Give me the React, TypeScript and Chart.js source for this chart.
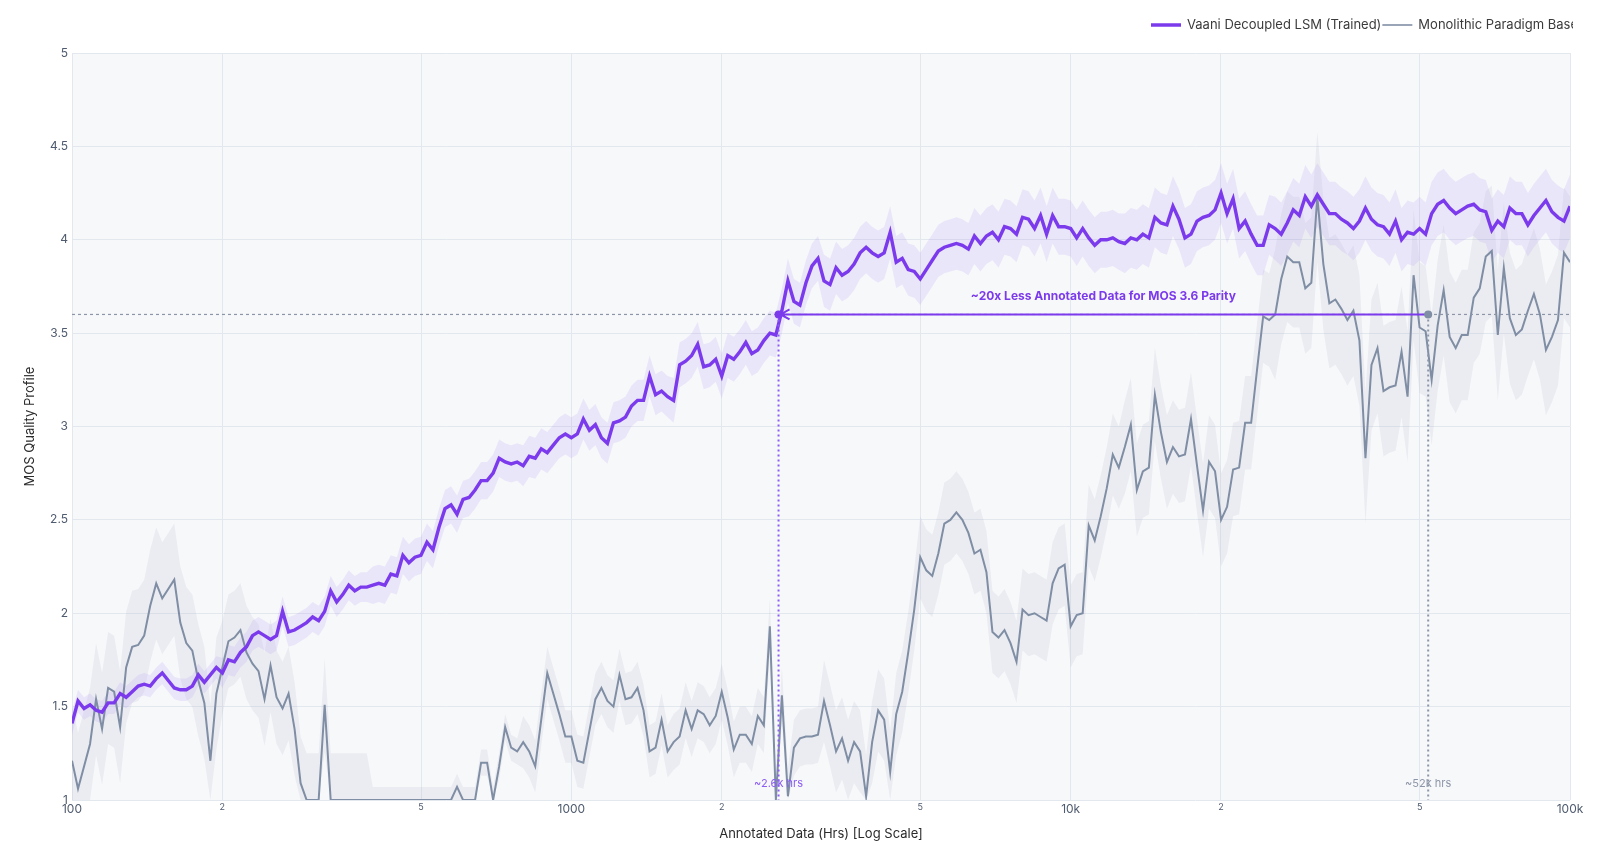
import { useEffect, useRef } from "react";
import { Chart, registerables } from "chart.js";

Chart.register(...registerables);
Chart.defaults.font.family = "Inter";

// MOS of the decoupled LSM, one value per sample on the log-spaced hours grid
const mosVaani = [
  1.41, 1.53, 1.49, 1.51, 1.48, 1.47, 1.52, 1.52, 1.57, 1.55,
  1.58, 1.61, 1.62, 1.61, 1.65, 1.68, 1.64, 1.6, 1.59, 1.59,
  1.61, 1.67, 1.63, 1.67, 1.71, 1.68, 1.75, 1.74, 1.79, 1.82,
  1.88, 1.9, 1.88, 1.86, 1.88, 2.01, 1.9, 1.91, 1.93, 1.95,
  1.98, 1.96, 2.01, 2.12, 2.06, 2.1, 2.15, 2.12, 2.14, 2.14,
  2.15, 2.16, 2.15, 2.21, 2.2, 2.31, 2.27, 2.3, 2.31, 2.38,
  2.34, 2.46, 2.56, 2.58, 2.53, 2.61, 2.62, 2.66, 2.71, 2.71,
  2.75, 2.83, 2.81, 2.8, 2.81, 2.79, 2.84, 2.83, 2.88, 2.86,
  2.9, 2.94, 2.96, 2.94, 2.96, 3.04, 2.98, 3.01, 2.94, 2.91,
  3.02, 3.03, 3.05, 3.11, 3.14, 3.14, 3.27, 3.17, 3.19, 3.16,
  3.14, 3.33, 3.35, 3.38, 3.44, 3.32, 3.33, 3.36, 3.27, 3.38,
  3.36, 3.4, 3.45, 3.39, 3.41, 3.46, 3.5, 3.49, 3.62, 3.78,
  3.67, 3.65, 3.77, 3.86, 3.9, 3.78, 3.76, 3.85, 3.81, 3.83,
  3.87, 3.93, 3.96, 3.93, 3.91, 3.93, 4.04, 3.88, 3.9, 3.84,
  3.83, 3.79, 3.84, 3.89, 3.94, 3.96, 3.97, 3.98, 3.97, 3.95,
  4.02, 3.98, 4.02, 4.04, 4.0, 4.07, 4.06, 4.03, 4.12, 4.11,
  4.06, 4.13, 4.03, 4.13, 4.07, 4.07, 4.06, 4.01, 4.06, 4.01,
  3.97, 4.0, 4.0, 4.01, 3.99, 3.98, 4.01, 4.0, 4.03, 4.01,
  4.12, 4.09, 4.08, 4.18, 4.11, 4.01, 4.03, 4.1, 4.12, 4.13,
  4.16, 4.25, 4.14, 4.22, 4.06, 4.1, 4.03, 3.97, 3.97, 4.08,
  4.06, 4.03, 4.09, 4.16, 4.13, 4.23, 4.18, 4.24, 4.19, 4.14,
  4.14, 4.11, 4.09, 4.06, 4.1, 4.17, 4.11, 4.08, 4.07, 4.03,
  4.1, 4.0, 4.04, 4.03, 4.06, 4.03, 4.14, 4.19, 4.21, 4.17,
  4.14, 4.16, 4.18, 4.19, 4.16, 4.15, 4.05, 4.1, 4.07, 4.17,
  4.14, 4.14, 4.08, 4.13, 4.17, 4.21, 4.15, 4.12, 4.1, 4.18,
];

// MOS of the monolithic baseline (floored at 1)
const mosBaseline = [
  1.21, 1.06, 1.18, 1.3, 1.54, 1.38, 1.6, 1.58, 1.39, 1.71,
  1.82, 1.83, 1.88, 2.04, 2.16, 2.08, 2.13, 2.18, 1.95, 1.84,
  1.8, 1.64, 1.52, 1.21, 1.57, 1.71, 1.85, 1.87, 1.91, 1.79,
  1.73, 1.69, 1.54, 1.72, 1.55, 1.49, 1.57, 1.38, 1.09, 1.0,
  1.0, 1.0, 1.51, 1.0, 1.0, 1.0, 1.0, 1.0, 1.0, 1.0,
  1.0, 1.0, 1.0, 1.0, 1.0, 1.0, 1.0, 1.0, 1.0, 1.0,
  1.0, 1.0, 1.0, 1.0, 1.07, 1.0, 1.0, 1.0, 1.2, 1.2,
  1.0, 1.18, 1.39, 1.28, 1.26, 1.31, 1.26, 1.18, 1.43, 1.68,
  1.57, 1.46, 1.34, 1.34, 1.21, 1.2, 1.37, 1.54, 1.6, 1.53,
  1.5, 1.67, 1.54, 1.55, 1.6, 1.48, 1.26, 1.28, 1.43, 1.26,
  1.31, 1.34, 1.48, 1.38, 1.48, 1.46, 1.4, 1.45, 1.58, 1.44,
  1.27, 1.35, 1.35, 1.3, 1.45, 1.4, 1.93, 1.0, 1.56, 1.02,
  1.28, 1.33, 1.34, 1.34, 1.35, 1.53, 1.4, 1.26, 1.33, 1.21,
  1.31, 1.26, 1.02, 1.31, 1.48, 1.43, 1.15, 1.46, 1.58, 1.79,
  2.02, 2.3, 2.23, 2.2, 2.32, 2.48, 2.5, 2.54, 2.5, 2.43,
  2.32, 2.34, 2.22, 1.9, 1.87, 1.91, 1.84, 1.74, 2.02, 1.99,
  2.0, 1.98, 1.96, 2.16, 2.24, 2.26, 1.93, 1.99, 2.0, 2.47,
  2.39, 2.52, 2.67, 2.85, 2.78, 2.89, 3.01, 2.66, 2.76, 2.78,
  3.17, 2.97, 2.81, 2.89, 2.84, 2.85, 3.04, 2.79, 2.55, 2.81,
  2.76, 2.5, 2.57, 2.77, 2.78, 3.02, 3.02, 3.31, 3.59, 3.57,
  3.6, 3.79, 3.91, 3.88, 3.88, 3.74, 3.77, 4.23, 3.87, 3.66,
  3.68, 3.63, 3.57, 3.62, 3.46, 2.83, 3.33, 3.42, 3.19, 3.21,
  3.22, 3.4, 3.16, 3.81, 3.53, 3.51, 3.25, 3.54, 3.73, 3.48,
  3.42, 3.49, 3.49, 3.69, 3.74, 3.91, 3.94, 3.49, 3.85, 3.58,
  3.49, 3.52, 3.62, 3.71, 3.6, 3.41, 3.48, 3.57, 3.93, 3.88,
];

// half-width of the shaded bands, one value per block of 25 samples
const vaaniSpread = [0.06, 0.08, 0.1, 0.11, 0.12, 0.14, 0.15, 0.16, 0.17, 0.17];
const baselineSpread = [0.3, 0.25, 0.07, 0.14, 0.15, 0.22, 0.22, 0.25, 0.35, 0.35];

const xTickValues = [100, 200, 500, 1000, 2000, 5000, 10000, 20000, 50000, 100000];
const xTickLabels = ["100", "2", "5", "1000", "2", "5", "10k", "2", "5", "100k"];
const xMajorTicks = [100, 1000, 10000, 100000];

const PARITY_MOS = 3.6;
const VAANI_PARITY_HRS = 2600;
const BASELINE_PARITY_HRS = 52000;

const PURPLE = "#7c3aed";
const SLATE = "#7f8ea4";

// sample grid: evenly spaced in log10 from 100 to 100k hours
const hours = mosVaani.map((_, i) => 10 ** (2 + (3 * i) / (mosVaani.length - 1)));

const spreadAt = (arr: number[], i: number) => arr[Math.min(arr.length - 1, Math.floor(i / 25))];

const plotBackground = {
  id: "plotBackground",
  beforeDraw(chart: any) {
    const { ctx, chartArea } = chart;
    ctx.save();
    ctx.fillStyle = "#f7f8fa";
    ctx.fillRect(chartArea.left, chartArea.top, chartArea.right - chartArea.left, chartArea.bottom - chartArea.top);
    ctx.restore();
  },
};

const parityAnnotation = {
  id: "parityAnnotation",
  afterDatasetsDraw(chart: any) {
    const { ctx, chartArea, scales } = chart;
    const y = scales.y.getPixelForValue(PARITY_MOS);
    const xa = scales.x.getPixelForValue(VAANI_PARITY_HRS);
    const xb = scales.x.getPixelForValue(BASELINE_PARITY_HRS);
    ctx.save();
    // dashed reference at MOS 3.6
    ctx.strokeStyle = "#8d96a8";
    ctx.lineWidth = 1.2;
    ctx.setLineDash([3, 3]);
    ctx.beginPath();
    ctx.moveTo(chartArea.left, y);
    ctx.lineTo(chartArea.right, y);
    ctx.stroke();
    // vertical drops
    ctx.setLineDash([2, 3]);
    ctx.lineWidth = 2;
    ctx.strokeStyle = "#8b5cf6";
    ctx.beginPath();
    ctx.moveTo(xa, y);
    ctx.lineTo(xa, chartArea.bottom);
    ctx.stroke();
    ctx.strokeStyle = "#8d96a8";
    ctx.beginPath();
    ctx.moveTo(xb, y);
    ctx.lineTo(xb, chartArea.bottom);
    ctx.stroke();
    // arrow
    ctx.setLineDash([]);
    ctx.strokeStyle = PURPLE;
    ctx.lineWidth = 2;
    ctx.beginPath();
    ctx.moveTo(xb, y);
    ctx.lineTo(xa + 2, y);
    ctx.moveTo(xa + 11, y - 5);
    ctx.lineTo(xa + 2, y);
    ctx.lineTo(xa + 11, y + 5);
    ctx.stroke();
    // markers
    ctx.fillStyle = PURPLE;
    ctx.beginPath();
    ctx.arc(xa, y, 4, 0, Math.PI * 2);
    ctx.fill();
    ctx.fillStyle = SLATE;
    ctx.beginPath();
    ctx.arc(xb, y, 4, 0, Math.PI * 2);
    ctx.fill();
    // texts
    ctx.textAlign = "center";
    ctx.textBaseline = "middle";
    ctx.font = "bold 12px Inter";
    ctx.fillStyle = PURPLE;
    const xm = scales.x.getPixelForValue(Math.sqrt(VAANI_PARITY_HRS * BASELINE_PARITY_HRS));
    ctx.fillText("~20x Less Annotated Data for MOS 3.6 Parity", xm, y - 18);
    ctx.font = "11px Inter";
    ctx.fillStyle = "#8b5cf6";
    ctx.fillText("~2.6k hrs", xa, chartArea.bottom - 16);
    ctx.fillStyle = "#8d96a8";
    ctx.fillText("~52k hrs", xb, chartArea.bottom - 16);
    ctx.restore();
  },
};

const topLegend = {
  id: "topLegend",
  afterDraw(chart: any) {
    const { ctx, chartArea } = chart;
    const items = [
      { text: "Vaani Decoupled LSM (Trained)", color: PURPLE, width: 3.5 },
      { text: "Monolithic Paradigm Baseline", color: "#9aa6b8", width: 2 },
    ];
    ctx.save();
    ctx.beginPath();
    ctx.rect(0, 0, chartArea.right + 3, chartArea.top);
    ctx.clip();
    ctx.font = "13px Inter";
    ctx.textBaseline = "middle";
    ctx.textAlign = "left";
    let x = chartArea.right - 419;
    const y = 25;
    for (const it of items) {
      ctx.strokeStyle = it.color;
      ctx.lineWidth = it.width;
      ctx.beginPath();
      ctx.moveTo(x, y);
      ctx.lineTo(x + 30, y);
      ctx.stroke();
      ctx.fillStyle = "#3b3b3b";
      ctx.fillText(it.text, x + 36, y);
      x += 36 + ctx.measureText(it.text).width + 1;
    }
    ctx.restore();
  },
};

export default function App() {
  const canvasRef = useRef<HTMLCanvasElement | null>(null);

  useEffect(() => {
    if (!canvasRef.current) return;
    const pts = (vals: number[]) => hours.map((h, i) => ({ x: h, y: vals[i] }));
    const line = { pointRadius: 0, tension: 0, borderWidth: 0 };

    const chart = new Chart(canvasRef.current, {
      type: "line",
      data: {
        datasets: [
          {
            ...line,
            label: "Vaani Decoupled LSM (Trained)",
            data: pts(mosVaani),
            borderColor: PURPLE,
            borderWidth: 3.4,
            order: 0,
          },
          {
            ...line,
            label: "Monolithic Paradigm Baseline",
            data: pts(mosBaseline),
            borderColor: SLATE,
            borderWidth: 2,
            order: 1,
          },
          {
            ...line,
            label: "vaani-upper",
            data: pts(mosVaani.map((v, i) => v + spreadAt(vaaniSpread, i))),
            borderColor: "transparent",
            backgroundColor: "rgba(139, 92, 246, 0.11)",
            fill: "+1",
            order: 2,
          },
          {
            ...line,
            label: "vaani-lower",
            data: pts(mosVaani.map((v, i) => v - spreadAt(vaaniSpread, i))),
            borderColor: "transparent",
            order: 2,
          },
          {
            ...line,
            label: "baseline-upper",
            data: pts(mosBaseline.map((v, i) => Math.min(5, v + spreadAt(baselineSpread, i)))),
            borderColor: "transparent",
            backgroundColor: "rgba(148, 160, 180, 0.12)",
            fill: "+1",
            order: 3,
          },
          {
            ...line,
            label: "baseline-lower",
            data: pts(mosBaseline.map((v, i) => Math.max(1, v - spreadAt(baselineSpread, i)))),
            borderColor: "transparent",
            order: 3,
          },
        ],
      },
      options: {
        responsive: false,
        animation: false,
        layout: { padding: { left: 0, right: 30, top: 53, bottom: 0 } },
        plugins: {
          legend: { display: false },
          tooltip: { enabled: false },
        },
        scales: {
          x: {
            type: "logarithmic",
            min: 100,
            max: 100000,
            afterBuildTicks: (axis: any) => {
              axis.ticks = xTickValues.map((v) => ({ value: v, major: xMajorTicks.includes(v) }));
            },
            afterFit: (s: any) => {
              s.height = 46;
            },
            ticks: {
              autoSkip: false,
              maxRotation: 0,
              padding: 2,
              color: "#4f5b6e",
              callback: (value: any) => xTickLabels[xTickValues.indexOf(Number(value))] ?? "",
              font: (c: any) => ({
                family: "Inter",
                size: c.tick && xMajorTicks.includes(c.tick.value) ? 12 : 9,
              }),
            },
            grid: { color: "#e3e7ee", drawTicks: false },
            border: { display: false },
            title: {
              display: true,
              text: "Annotated Data (Hrs) [Log Scale]",
              color: "#2b2b2b",
              font: { size: 13, family: "Inter" },
              padding: { top: 0, bottom: 4 },
            },
          },
          y: {
            min: 1,
            max: 5,
            afterFit: (s: any) => {
              s.width = 72;
            },
            ticks: {
              stepSize: 0.5,
              padding: 4,
              color: "#4f5b6e",
              font: { size: 12, family: "Inter" },
              callback: (value: any) => String(Number(value)),
            },
            grid: { color: "#e3e7ee", drawTicks: false },
            border: { display: false },
            title: {
              display: true,
              text: "MOS Quality Profile",
              color: "#2b2b2b",
              font: { size: 13, family: "Inter" },
              padding: { top: 22, bottom: 0 },
            },
          },
        },
      },
      plugins: [plotBackground, parityAnnotation, topLegend],
    });

    return () => {
      chart.destroy();
    };
  }, []);

  return (
    <div style={{ position: "absolute", left: 0, top: 0, width: 1600, height: 846, background: "#fff" }}>
      <canvas ref={canvasRef} width={1600} height={846} style={{ display: "block" }} />
    </div>
  );
}
